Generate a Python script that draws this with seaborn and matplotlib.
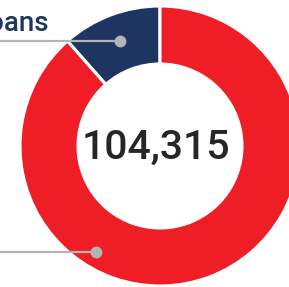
import numpy as np
import matplotlib
matplotlib.use("Agg")
import matplotlib.pyplot as plt
import seaborn as sns

categories = ["Loans", "Other"]
values = [12000, 92315]
total_label = "104,315"
colors = ["#1e3461", "#ee1d26"]

sns.set_theme(style="white")
plt.rcParams['font.family'] = ['Roboto', 'DejaVu Sans']

W, H = 289, 287
fig = plt.figure(figsize=(W / 100, H / 100), dpi=100)
ax = fig.add_axes([0, 0, 1, 1])
ax.set_xlim(0, W)
ax.set_ylim(0, H)
ax.set_aspect('equal')
ax.axis('off')

R = 140
cx, cy = 160, 141
wedges, _ = ax.pie(values, radius=R, center=(cx, cy), startangle=90, counterclock=True,
                   colors=colors,
                   wedgeprops=dict(width=58, edgecolor='white', linewidth=2.2))
ax.set_xlim(0, W)
ax.set_ylim(0, H)

ax.text(cx - 4, cy - 2, total_label, ha='center', va='center', fontsize=29.5,
        fontweight='medium', color='#262626')

# leader lines
frac = np.array(values) / sum(values)
navy_angle = np.deg2rad(90 + 360 * frac[0] / 2)
anchors = [(navy_angle, 0.80), (np.deg2rad(239), 0.885)]
for (ang, rf) in anchors:
    px = cx + R * rf * np.cos(ang)
    py = cy + R * rf * np.sin(ang)
    ax.plot([-10, px], [py, py], color='#b4b4b4', lw=1.6, solid_capstyle='butt', zorder=5)
    ax.plot([px], [py], 'o', color='#b4b4b4', markersize=7.5, zorder=6)
    if ang == navy_angle:
        ax.text(49, py + 10.5, categories[0], ha='right', va='baseline', fontsize=20,
                fontweight='medium', color=colors[0])

fig.savefig("out.png", dpi=100)
